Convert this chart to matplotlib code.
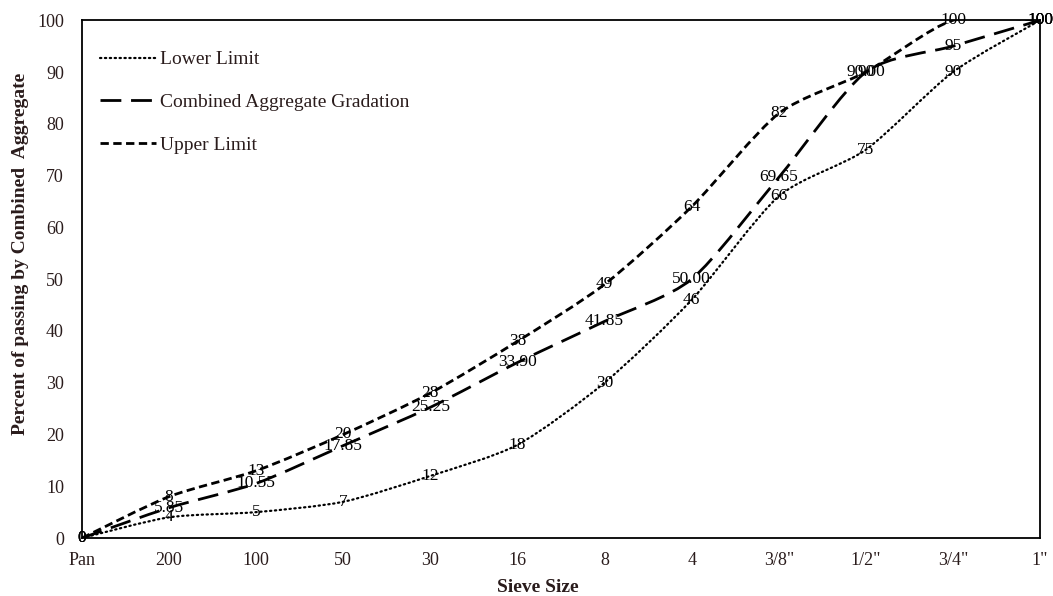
import numpy as np
import matplotlib
matplotlib.use('Agg')
import matplotlib.pyplot as plt
from matplotlib.path import Path
from matplotlib.patches import PathPatch
from matplotlib.lines import Line2D

# ── data ───────────────────────────────────────────────────────────────────────
sieves = ['Pan', '200', '100', '50', '30', '16', '8', '4', '3/8"', '1/2"', '3/4"', '1"']
lower = [0, 4, 5, 7, 12, 18, 30, 46, 66, 75, 90, 100]
combined = [0, 5.85, 10.55, 17.85, 25.25, 33.90, 41.85, 50.00, 69.65, 90.00, 95, 100]
combined_labels = ['0', '5.85', '10.55', '17.85', '25.25', '33.90', '41.85', '50.00',
                   '69.65', '90.00', '95', '100']
upper = [0, 8, 13, 20, 28, 38, 49, 64, 82, 90, 100, 100]

TEXT = '#2a1c1c'
plt.rcParams['font.family'] = ['Liberation Serif', 'DejaVu Serif']


def smooth_path(xs, ys, k=1 / 8.0):
    """Excel-style smoothed line: cubic Bezier through every point."""
    pts = np.column_stack([xs, ys]).astype(float)
    n = len(pts)
    verts = [pts[0]]
    codes = [Path.MOVETO]
    for i in range(n - 1):
        p0 = pts[i - 1] if i > 0 else pts[i]
        p1 = pts[i]
        p2 = pts[i + 1]
        p3 = pts[i + 2] if i + 2 < n else pts[i + 1]
        c1 = p1 + (p2 - p0) * k
        c2 = p2 - (p3 - p1) * k
        verts += [c1, c2, p2]
        codes += [Path.CURVE4] * 3
    return Path(verts, codes)


fig = plt.figure(figsize=(10.53, 5.96), dpi=100)
ax = fig.add_axes([0.0779, 0.0973, 0.9098, 0.8687])

x = np.arange(len(sieves))
styles = [
    (lower, dict(linestyle=(0, (0.6, 1.6)), linewidth=1.6, dash_capstyle='round'), 'Lower Limit'),
    (combined, dict(linestyle=(0, (7.5, 3.5)), linewidth=2.0), 'Combined Aggregate Gradation'),
    (upper, dict(linestyle=(0, (3.0, 1.6)), linewidth=2.0), 'Upper Limit'),
]
handles = []
for vals, st, lab in styles:
    patch = PathPatch(smooth_path(x, vals), facecolor='none', edgecolor='black',
                      capstyle=st.get('dash_capstyle', 'butt'),
                      linestyle=st['linestyle'], linewidth=st['linewidth'])
    ax.add_patch(patch)
    handles.append(Line2D([], [], color='black', **st, label=lab))

for vals, labs in [(lower, [str(v) for v in lower]),
                   (combined, combined_labels),
                   (upper, [str(v) for v in upper])]:
    for xi, v, t in zip(x, vals, labs):
        ax.text(xi, v, t, ha='center', va='center', fontsize=12.5, color='black')

ax.set_xlim(0, len(sieves) - 1)
ax.set_ylim(0, 100)
ax.set_xticks(x)
ax.set_xticklabels(sieves)
ax.set_yticks(np.arange(0, 101, 10))
ax.tick_params(axis='both', length=0, labelsize=13, colors=TEXT)
ax.tick_params(axis='y', pad=13)
ax.tick_params(axis='x', pad=10)
for sp in ax.spines.values():
    sp.set_linewidth(1.3)
    sp.set_color('black')

ax.set_xlabel('Sieve Size', fontsize=14, fontweight='bold', color=TEXT)
ax.xaxis.set_label_coords(0.476, -0.0965)
ax.xaxis.label.set_va('center')
ax.set_ylabel('Percent of passing by Combined  Aggregate', fontsize=14,
              fontweight='bold', color=TEXT)
ax.yaxis.set_label_coords(-0.0647, 0.548)
ax.yaxis.label.set_va('center')

ax.legend(handles=handles, loc='upper left', frameon=False, fontsize=14,
          handlelength=2.9, handletextpad=0.2, labelspacing=1.3,
          bbox_to_anchor=(0.0, 0.975), labelcolor=TEXT)

fig.savefig('out.png', dpi=100)
